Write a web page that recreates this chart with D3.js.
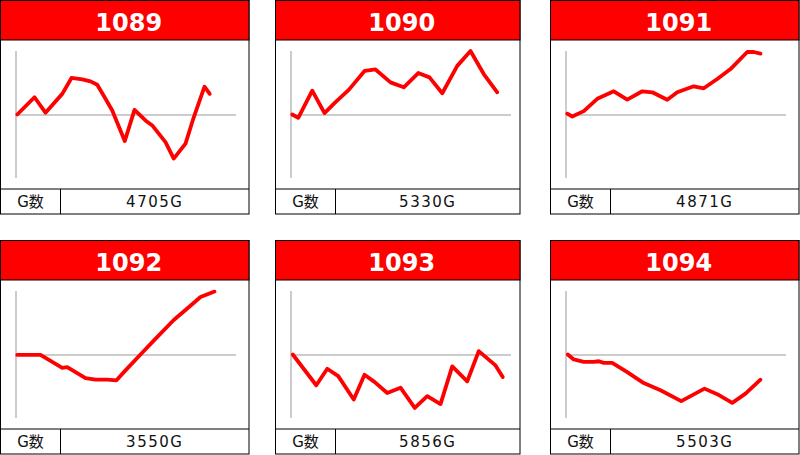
<!DOCTYPE html>
<html>
<head>
<meta charset="utf-8">
<script src="https://cdn.jsdelivr.net/npm/d3@7"></script>
<style>
  html, body { margin: 0; padding: 0; background: #fff; }
  svg { display: block; }
</style>
</head>
<body>
<div id="chart"></div>
<script>
// ---- data ----
const machines = ["1089", "1090", "1091", "1092", "1093", "1094"];
const gameCounts = ["4705G", "5330G", "4871G", "3550G", "5856G", "5503G"];
const footerLabel = "G数";

// x: progress units (games-scale), y: coin difference
const x1089 = [50, 740, 1180, 1850, 2220, 2650, 2980, 3250, 3580, 3850, 4350, 4740, 5180, 5450, 5980, 6310, 6780, 7110, 7540, 7750];
const y1089 = [0, 870, 90, 1040, 1840, 1770, 1670, 1500, 790, 200, -1340, 230, -300, -550, -1390, -2220, -1470, -140, 1400, 1040];

const x1090 = [50, 290, 850, 1340, 1780, 2310, 2950, 3380, 3980, 4510, 5090, 5540, 6050, 6650, 7180, 7710, 8250];
const y1090 = [0, -170, 1200, 70, 620, 1240, 2200, 2270, 1620, 1370, 2090, 1870, 1070, 2450, 3200, 2040, 1120];

const x1091 = [50, 250, 710, 1250, 1910, 2450, 3050, 3450, 4050, 4450, 5110, 5510, 6050, 6580, 7250, 7510, 7780];
const y1091 = [40, -100, 170, 790, 1170, 750, 1170, 1120, 740, 1120, 1420, 1320, 1790, 2290, 3150, 3150, 3070];

const x1092 = [50, 980, 1850, 2050, 2780, 3180, 3650, 4020, 4380, 4980, 5510, 6310, 6780, 7380, 7940];
const y1092 = [-20, -20, -670, -640, -1190, -1270, -1270, -1300, -800, 0, 700, 1740, 2240, 2900, 3170];

const x1093 = [70, 1010, 1450, 1890, 2510, 2940, 3350, 3850, 4380, 4950, 5450, 5980, 6450, 7050, 7510, 8180, 8470];
const y1093 = [0, -1550, -720, -1090, -2270, -1020, -1390, -1940, -1670, -2690, -2100, -2500, -600, -1350, 170, -550, -1140];

const x1094 = [70, 310, 710, 1110, 1310, 1510, 1850, 2450, 3110, 3780, 4610, 5540, 6050, 6650, 7180, 7780];
const y1094 = [0, -250, -370, -370, -340, -420, -420, -890, -1440, -1800, -2350, -1720, -2000, -2440, -1970, -1270];

const seriesX = [x1089, x1090, x1091, x1092, x1093, x1094];
const seriesY = [y1089, y1090, y1091, y1092, y1093, y1094];

const xDomain = [0, 8800];
const yDomain = [-3200, 3200];

// ---- layout ----
const W = 800, H = 455;
const panelLeft = [0.5, 275.5, 550.5];
const panelWidth = [248.5, 244.5, 248.5];
const panelTop = [0.5, 240.5];
const panelH = 213.5;
const headerH = 39.5;
const footerTop = 188.5;
const divX = 60;

const svg = d3.select("#chart").append("svg")
  .attr("width", W).attr("height", H)
  .attr("viewBox", `0 0 ${W} ${H}`);

const x = d3.scaleLinear().domain(xDomain).range([15.5, 235.5]);
const y = d3.scaleLinear().domain(yDomain).range([177.5, 50.5]);

machines.forEach((m, i) => {
  const col = i % 3, row = Math.floor(i / 3);
  const pw = panelWidth[col];
  const g = svg.append("g")
    .attr("transform", `translate(${panelLeft[col]},${panelTop[row]})`);

  // background + outer border
  g.append("rect").attr("x", 0).attr("y", 0).attr("width", pw).attr("height", panelH)
    .attr("fill", "#fff").attr("stroke", "#000").attr("stroke-width", 1);

  // header
  g.append("rect").attr("x", 0).attr("y", 0).attr("width", pw).attr("height", headerH)
    .attr("fill", "#ff0000").attr("stroke", "#000").attr("stroke-width", 1);
  g.append("text")
    .attr("x", pw / 2 + 4).attr("y", 30)
    .attr("text-anchor", "middle")
    .attr("font-family", "'DejaVu Sans', 'Liberation Sans', sans-serif")
    .attr("font-weight", "bold")
    .attr("font-size", 24)
    .attr("fill", "#fff")
    .text(m);

  // axes: vertical line and zero line
  g.append("line")
    .attr("x1", x(0)).attr("x2", x(0))
    .attr("y1", y(yDomain[1])).attr("y2", y(yDomain[0]))
    .attr("stroke", "#999").attr("stroke-width", 1);
  g.append("line")
    .attr("x1", x(0)).attr("x2", x(xDomain[1]))
    .attr("y1", Math.round(y(0)) + 0.5).attr("y2", Math.round(y(0)) + 0.5)
    .attr("stroke", "#999").attr("stroke-width", 1);

  // series line
  const pts = seriesX[i].map((v, k) => [v, seriesY[i][k]]);
  const line = d3.line().x(d => x(d[0])).y(d => y(d[1])).curve(d3.curveLinear);
  g.append("path")
    .attr("d", line(pts))
    .attr("fill", "none")
    .attr("stroke", "#ff0000")
    .attr("stroke-width", 3.8)
    .attr("stroke-linejoin", "round")
    .attr("stroke-linecap", "round");

  // footer
  g.append("line")
    .attr("x1", 0).attr("x2", pw).attr("y1", footerTop).attr("y2", footerTop)
    .attr("stroke", "#000").attr("stroke-width", 1);
  g.append("line")
    .attr("x1", divX).attr("x2", divX).attr("y1", footerTop).attr("y2", panelH)
    .attr("stroke", "#000").attr("stroke-width", 1);
  g.append("text")
    .attr("x", divX / 2).attr("y", 206.5)
    .attr("text-anchor", "middle")
    .attr("font-family", "'DejaVu Sans', 'Noto Sans CJK JP', sans-serif")
    .attr("font-size", 15)
    .attr("fill", "#111")
    .text(footerLabel);
  g.append("text")
    .attr("x", (divX + pw) / 2).attr("y", 206.5)
    .attr("text-anchor", "middle")
    .attr("font-family", "'DejaVu Sans', sans-serif")
    .attr("font-size", 15)
    .attr("letter-spacing", 1.5)
    .attr("fill", "#111")
    .text(gameCounts[i]);
});
</script>
</body>
</html>
